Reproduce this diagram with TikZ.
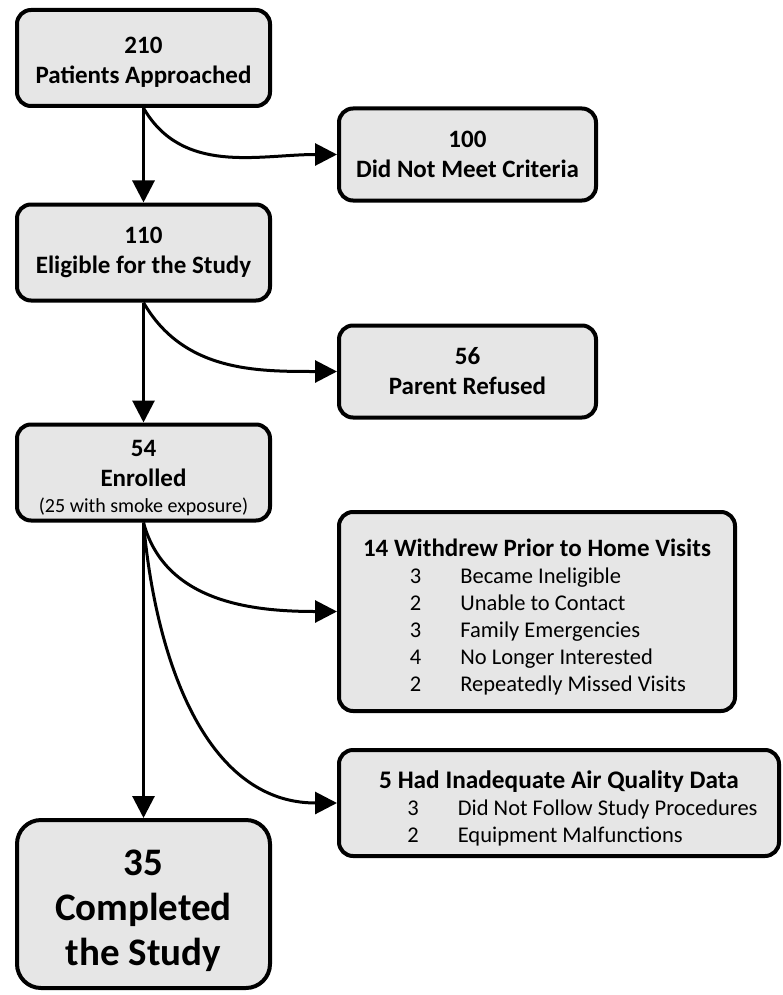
\documentclass[tikz,border=0pt]{standalone}
\usepackage{fontspec}
\setmainfont{Carlito}
\usetikzlibrary{arrows.meta}
\definecolor{boxgray}{RGB}{230,230,230}
\tikzset{
	>={Triangle[length=22pt,width=22pt]},
	mainbox/.style={
		rectangle,
		rounded corners=14pt,
		fill=boxgray,
		draw=black, line width=4pt,
		minimum width=253pt,
		minimum height=96pt,
		align=center,
		font=\fontsize{25}{30}\selectfont\bfseries},
	sidebox/.style={mainbox, minimum width=257pt, minimum height=92pt},
	listbox/.style={mainbox, align=center, font=\fontsize{22.5}{27}\selectfont},
	line/.style={draw, line width=3pt, ->},
}

\begin{document}
\begin{tikzpicture}
		[x=1pt, y=-1pt]
		\useasboundingbox (0,0) rectangle (783,995);
		\node[mainbox] (approached) at (143.5,58) {\rule{0pt}{24pt}210\\Patients Approached};
		\node[mainbox] (eligible)   at (143.5,252.5) {110\\Eligible for the Study};
		\node[mainbox] (enrolled)   at (143.5,472.5) {\rule{0pt}{28pt}54\\Enrolled\\[-4pt]{\mdseries\fontsize{20}{24}\selectfont (25 with smoke exposure)}};
		\node[mainbox, rounded corners=24pt, minimum height=168pt, font=\fontsize{39}{45}\selectfont\bfseries] (completed) at (143.5,904) {\rule{0pt}{39pt}35\\Completed\\the Study};
		\node[sidebox] (criteria) at (467.5,154.5) {100\\Did Not Meet Criteria};
		\node[sidebox] (refused)  at (467.5,371.5) {56\\Parent Refused};
		\node[listbox, minimum width=396pt, minimum height=199pt] (withdrew) at (537,611.5)
			{\rule{0pt}{34pt}\textbf{\fontsize{25}{28}\selectfont 14 Withdrew Prior to Home Visits}\\
			\hspace*{22pt}\begin{tabular}[t]{@{}c@{\hspace{39pt}}l@{}}
				3 & Became Ineligible\\
				2 & Unable to Contact\\
				3 & Family Emergencies\\
				4 & No Longer Interested\\
				2 & Repeatedly Missed Visits
			\end{tabular}};
		\node[listbox, minimum width=440pt, minimum height=106pt] (inadequate) at (559,803)
			{\rule{0pt}{34pt}\textbf{\fontsize{25.3}{28}\selectfont 5 Had Inadequate Air Quality Data}\\
			\hspace*{47pt}\begin{tabular}[t]{@{}c@{\hspace{39pt}}l@{}}
				3 & Did Not Follow Study Procedures\\
				2 & Equipment Malfunctions
			\end{tabular}};
		% main flow
		\draw[line] (approached) -- (eligible);
		\draw[line] (eligible) -- (enrolled);
		\draw[line] (enrolled) -- (completed);
		% exclusions
		\draw[line] (approached.south) to[out=-60, in=180] (criteria.west);
		\draw[line] (eligible.south) to[out=-60, in=180] (refused.west);
		\draw[line] (enrolled.south) to[out=-75, in=180] (withdrew.west);
		\draw[line] (enrolled.south) to[out=-85, in=180] (inadequate.west);
		\end{tikzpicture}
\end{document}
